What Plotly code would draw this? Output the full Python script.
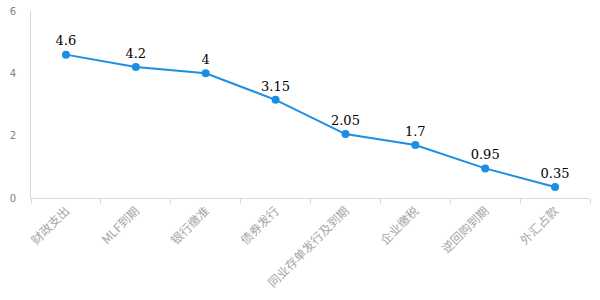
import plotly.graph_objects as go

categories = ["财政支出", "MLF到期", "银行缴准", "债券发行", "同业存单发行及到期", "企业缴税", "逆回购到期", "外汇占款"]
values = [4.6, 4.2, 4, 3.15, 2.05, 1.7, 0.95, 0.35]
labels = ["4.6", "4.2", "4", "3.15", "2.05", "1.7", "0.95", "0.35"]
y_ticks = [0, 2, 4, 6]

fig = go.Figure()
fig.add_trace(go.Scatter(
    x=categories, y=values, mode="lines+markers+text",
    text=labels, textposition="top center",
    textfont=dict(family="DejaVu Serif", size=13, color="#000000"),
    line=dict(color="#1a8fe3", width=2),
    marker=dict(color="#1a8fe3", size=8),
    cliponaxis=False,
))
fig.update_layout(
    width=600, height=300,
    margin=dict(l=31, r=10, t=11, b=102),
    paper_bgcolor="white", plot_bgcolor="white",
    showlegend=False,
    font=dict(family="Noto Sans CJK SC", size=10, color="#7f7f7f"),
)
fig.update_xaxes(
    type="category", tickangle=-45, tickson="boundaries",
    ticks="outside", ticklen=5, tickcolor="#d9d9d9",
    showline=True, linecolor="#d9d9d9", linewidth=1,
    showgrid=False, zeroline=False, automargin=False,
    tickfont=dict(family="Noto Sans CJK SC", size=12, color="#a6a6a6"),
    range=[-0.5, 7.5],
)
fig.update_yaxes(
    range=[0, 6], tickvals=y_ticks,
    showline=True, linecolor="#d0d8e0", linewidth=1,
    showgrid=False, zeroline=False, ticks="", automargin=False,
    tickfont=dict(family="DejaVu Sans", size=10, color="#7f7f7f"),
    ticklabelstandoff=12,
)
fig.write_html("out.html")
